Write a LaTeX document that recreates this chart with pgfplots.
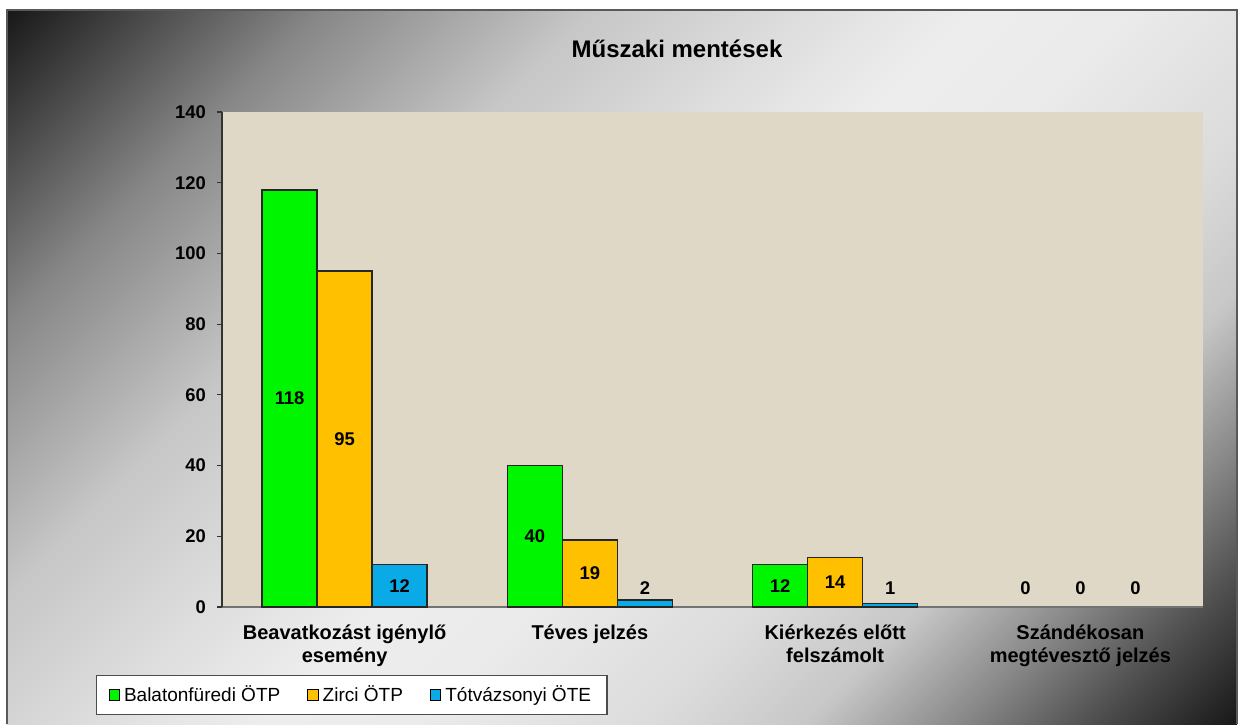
\documentclass[border=0pt]{standalone}
\usepackage{fontspec}
\setmainfont{Liberation Sans}
\usepackage{pgfplots}
\pgfplotsset{compat=1.18}

\definecolor{burlap}{RGB}{224,216,199}
\definecolor{barA}{RGB}{0,245,0}
\definecolor{barB}{RGB}{255,192,0}
\definecolor{barC}{RGB}{10,170,230}

% diagonal grey background: dark corners top left and bottom right
\pgfdeclarehorizontalshading{bgshade}{100bp}{%
  color(0bp)=(black!90); color(25bp)=(black!90); color(33bp)=(black!47);
  color(40bp)=(black!22); color(47.5bp)=(black!10); color(50bp)=(black!7);
  color(54bp)=(black!8); color(60bp)=(black!14); color(64bp)=(black!22);
  color(68bp)=(black!47); color(71.5bp)=(black!70);
  color(75bp)=(black!90); color(100bp)=(black!90)}

\pgfplotsset{
  sqleg/.style={legend image code/.code={
      \draw[##1, draw=black, line width=0.5pt] (0pt,-2.6pt) rectangle (5.2pt,2.6pt);}},
}

\begin{document}
\begin{tikzpicture}
\fill[white] (0,0) rectangle (620.5pt,362pt);
\begin{scope}
  \clip (3.5pt,0) rectangle (618.5pt,357pt);
  \shade[shading=bgshade, shading angle=-45]
    (311pt,178.5pt) ++(-343.5pt,-343.5pt) rectangle ++(687pt,687pt);
\end{scope}
\draw[black!65, line width=0.6pt] (3.5pt,0) -- (3.5pt,357pt) -- (618.5pt,357pt) -- (618.5pt,0);

\node[font=\fontsize{12}{14}\selectfont\bfseries] at (338.5pt,337.5pt) {Műszaki mentések};

\begin{axis}[
    at={(111pt,58.5pt)}, anchor=south west,
    scale only axis,
    width=490.5pt, height=247.5pt,
    xmin=-0.5, xmax=3.5,
    ymin=0, ymax=140,
    ytick={0,20,...,140},
    xtick={0,1,2,3},
    xticklabels={{Beavatkozást igénylő\\esemény},{Téves jelzés},{Kiérkezés előtt\\felszámolt},{Szándékosan\\megtévesztő jelzés}},
    axis x line*=bottom, axis y line*=left,
    axis line style={-},
    x axis line style={black!55, line width=0.8pt},
    y axis line style={black!80, line width=0.6pt},
    axis background/.style={fill=burlap},
    tick align=outside,
    major tick length=2.5pt,
    xtick style={draw=none},
    ytick style={black!80, line width=0.6pt},
    /pgf/number format/assume math mode=true,
    yticklabel style={font=\fontsize{9.2}{11}\selectfont\bfseries, xshift=-2pt},
    xticklabel style={font=\fontsize{10}{11.5}\selectfont\bfseries, align=center, yshift=-3pt},
    legend columns=3,
    legend style={
        at={(-0.1284,-0.218)}, anchor=south west,
        draw=black!70, line width=0.6pt, fill=white,
        font=\fontsize{9.5}{11}\selectfont,
        inner xsep=6pt, inner ysep=3pt,
        /tikz/every even column/.append style={column sep=11.5pt},
    },
    nodes near coords style={anchor=center, font=\fontsize{9.2}{11}\selectfont\bfseries, text=black},
]

% bars (zero values draw nothing)
\addplot[ybar, bar width=0.2243, bar shift=-0.2243, fill=barA, draw=black!85, line width=0.8pt, sqleg]
  coordinates {(0,118) (1,40) (2,12)};
\addlegendentry{Balatonfüredi ÖTP}
\addplot[ybar, bar width=0.2243, bar shift=0, fill=barB, draw=black!85, line width=0.8pt, sqleg]
  coordinates {(0,95) (1,19) (2,14)};
\addlegendentry{Zirci ÖTP}
\addplot[ybar, bar width=0.2243, bar shift=0.2243, fill=barC, draw=black!85, line width=0.8pt, sqleg]
  coordinates {(0,12) (1,2) (2,1)};
\addlegendentry{Tótvázsonyi ÖTE}

% data labels: centred in the bar, lifted above the axis for short bars
\addplot[draw=none, mark=none, forget plot, nodes near coords, point meta=explicit symbolic]
  coordinates {(-0.2243,59) [118] (0.7757,20) [40] (1.7757,6) [12] (2.7757,5.3) [0]};
\addplot[draw=none, mark=none, forget plot, nodes near coords, point meta=explicit symbolic]
  coordinates {(0,47.5) [95] (1,9.5) [19] (2,7) [14] (3,5.3) [0]};
\addplot[draw=none, mark=none, forget plot, nodes near coords, point meta=explicit symbolic]
  coordinates {(0.2243,6) [12] (1.2243,5.3) [2] (2.2243,5.3) [1] (3.2243,5.3) [0]};

\end{axis}
\end{tikzpicture}
\end{document}
